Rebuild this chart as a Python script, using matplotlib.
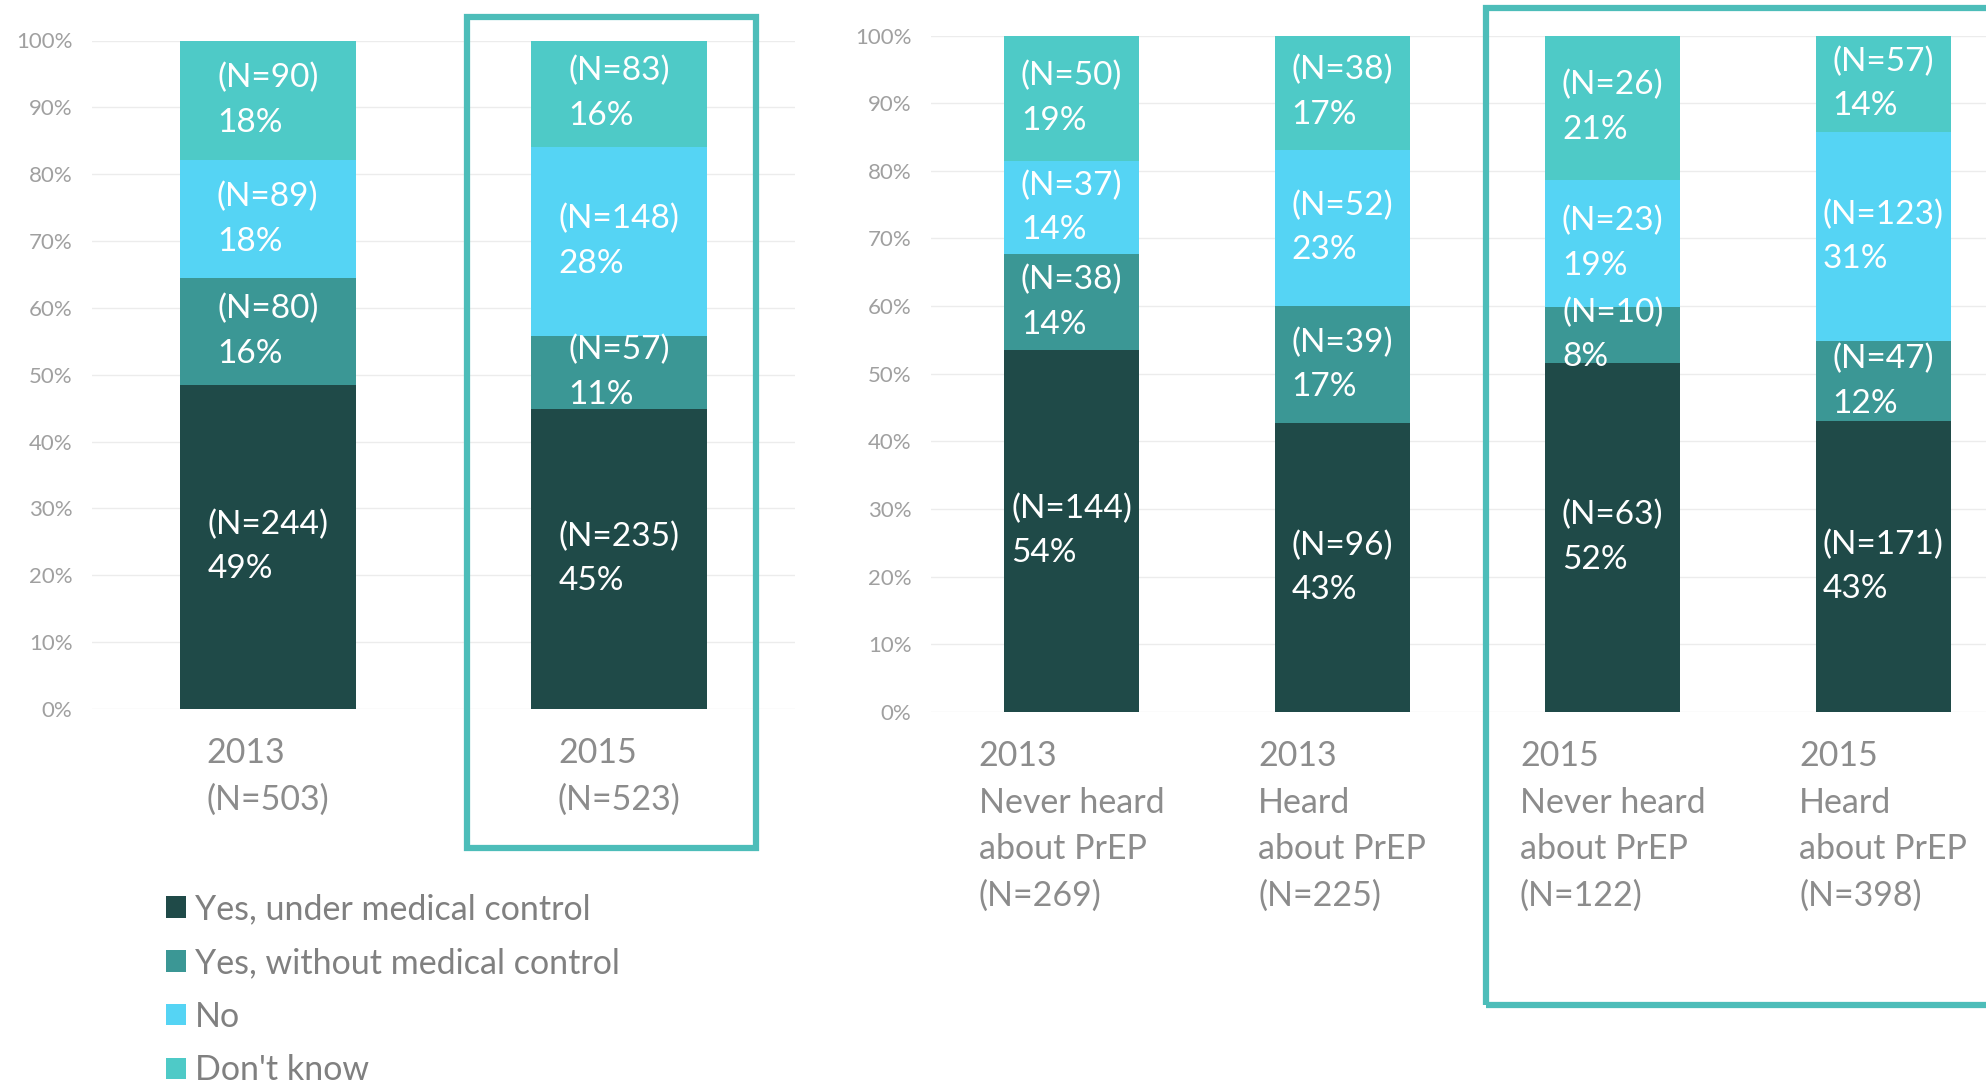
import matplotlib
matplotlib.use("Agg")
import matplotlib.pyplot as plt
from matplotlib.patches import Rectangle
from matplotlib.transforms import blended_transform_factory
import numpy as np

plt.rcParams['font.family'] = ['Lato', 'DejaVu Sans']

# ---------------- data ----------------
series_names = ["Yes, under medical control", "Yes, without medical control", "No", "Don't know"]
series_colors = ["#1f4a48", "#3b9795", "#55d4f4", "#4ecac7"]

left_categories = ["2013\n(N=503)", "2015\n(N=523)"]
left_totals = [503, 523]
left_yes_med_n = [244, 235]
left_yes_nomed_n = [80, 57]
left_no_n = [89, 148]
left_dk_n = [90, 83]
left_yes_med_pct = [49, 45]
left_yes_nomed_pct = [16, 11]
left_no_pct = [18, 28]
left_dk_pct = [18, 16]

right_categories = ["2013\nNever heard\nabout PrEP\n(N=269)",
                    "2013\nHeard\nabout PrEP\n(N=225)",
                    "2015\nNever heard\nabout PrEP\n(N=122)",
                    "2015\nHeard\nabout PrEP\n(N=398)"]
right_totals = [269, 225, 122, 398]
right_yes_med_n = [144, 96, 63, 171]
right_yes_nomed_n = [38, 39, 10, 47]
right_no_n = [37, 52, 23, 123]
right_dk_n = [50, 38, 26, 57]
right_yes_med_pct = [54, 43, 52, 43]
right_yes_nomed_pct = [14, 17, 8, 12]
right_no_pct = [14, 23, 19, 31]
right_dk_pct = [19, 17, 21, 14]

yticks = [0, 10, 20, 30, 40, 50, 60, 70, 80, 90, 100]
ytick_labels = [f"{v}%" for v in yticks]

W, H = 1986, 1085
fig = plt.figure(figsize=(W / 100, H / 100), dpi=100)


def px_axes(x0, x1, ytop, ybot):
    return fig.add_axes([x0 / W, (H - ybot) / H, (x1 - x0) / W, (ybot - ytop) / H])


def draw_panel(ax, cats, totals, ns, pcts, xlim, label_y):
    x = np.arange(len(cats))
    bottom = np.zeros(len(cats))
    handles = []
    for s in range(4):
        h = np.array(ns[s]) / np.array(totals) * 100
        b = ax.bar(x, h, width=0.5, bottom=bottom, color=series_colors[s],
                   label=series_names[s], zorder=2, linewidth=0)
        handles.append(b)
        for i in range(len(cats)):
            ax.text(x[i], bottom[i] + h[i] / 2, f"(N={ns[s][i]})\n{pcts[s][i]}%",
                    ha='center', va='center', multialignment='left',
                    color='white', fontsize=24, linespacing=1.6, zorder=3)
        bottom += h
    ax.set_ylim(0, 100)
    ax.set_xlim(*xlim)
    ax.set_yticks(yticks)
    ax.set_yticklabels(ytick_labels, fontsize=16, color='#a0a0a0')
    ax.tick_params(axis='y', length=0, pad=14)
    ax.set_xticks([])
    for sp in ax.spines.values():
        sp.set_visible(False)
    ax.grid(axis='y', color='#ececec', linewidth=1.0, zorder=0)
    ax.set_axisbelow(True)
    tr = blended_transform_factory(ax.transData, ax.transAxes)
    for i, c in enumerate(cats):
        ax.text(x[i], label_y, c, transform=tr, ha='center', va='top',
                multialignment='left', color='#8c8c8c', fontsize=24.5, linespacing=1.55)
    return handles


axL = px_axes(92, 795, 40.5, 709)
handles = draw_panel(axL, left_categories, left_totals,
                     [left_yes_med_n, left_yes_nomed_n, left_no_n, left_dk_n],
                     [left_yes_med_pct, left_yes_nomed_pct, left_no_pct, left_dk_pct],
                     (-0.5, 1.5), -0.042)

axR = px_axes(931, 1986, 35.5, 712)
draw_panel(axR, right_categories, right_totals,
           [right_yes_med_n, right_yes_nomed_n, right_no_n, right_dk_n],
           [right_yes_med_pct, right_yes_nomed_pct, right_no_pct, right_dk_pct],
           (-0.52, 3.38), -0.042)

# highlight boxes
box_color = "#4dbdb9"
fig.add_artist(Rectangle((467 / W, (H - 848) / H), (756 - 467) / W, (848 - 16.5) / H,
                         transform=fig.transFigure, fill=False, lw=4.5, ec=box_color))
fig.add_artist(Rectangle((1486 / W, (H - 1005) / H), (2010 - 1486) / W, (1005 - 8.5) / H,
                         transform=fig.transFigure, fill=False, lw=4.5, ec=box_color))

leg = fig.legend(handles=handles, labels=series_names, loc='upper left',
                 bbox_to_anchor=(166 / W, (H - 893) / H), frameon=False,
                 fontsize=24.5, handlelength=0.6, handleheight=0.6, handletextpad=0.25,
                 labelspacing=0.64, borderpad=0, borderaxespad=0)
for t in leg.get_texts():
    t.set_color('#808080')

fig.savefig("out.png", dpi=100)
